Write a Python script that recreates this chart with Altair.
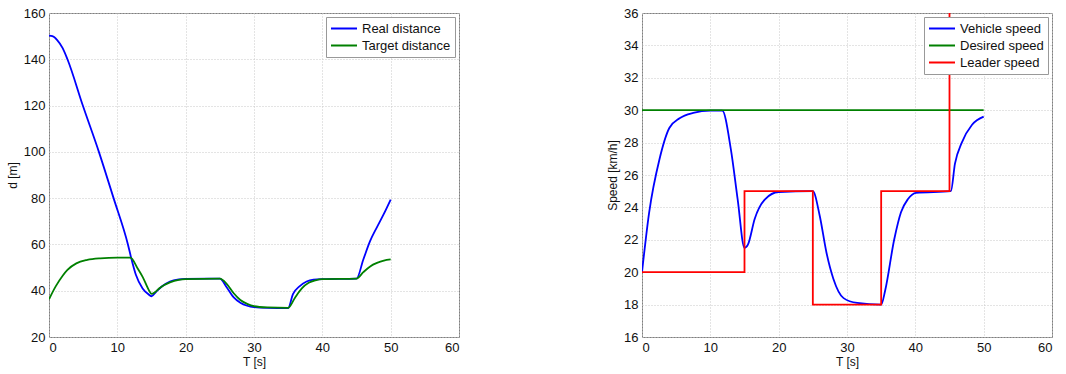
import altair as alt
import pandas as pd

# ---- Left panel: distances ----
t_real = [0, 0.5, 1.2, 2, 2.7, 4.95, 7.3, 9.45, 11.55, 12, 12.7, 13.7, 14.5, 15, 15.7, 16.5, 17.7, 19, 20, 25,
          26, 27, 28, 29, 30, 32, 35, 35.7, 36.7, 37.7, 38.7, 40, 45, 46, 47, 48, 49, 50]
d_real = [150.2, 150, 148.3, 144.8, 140, 120, 100, 80, 60, 54.5, 47.0, 41.0, 38.6, 37.6, 39.6, 41.8, 44.0, 44.9, 45.1, 45.2,
          41.5, 37.2, 34.8, 33.5, 32.9, 32.6, 32.5, 38.5, 42.0, 44.0, 44.8, 45.0, 45.2, 53.5, 61.5, 67.5, 73.2, 79.4]

t_target = [0, 1, 2, 2.7, 4, 5.6, 7.5, 10, 11.9, 13, 13.7, 14.7, 15, 15.5, 16.2, 17.7, 19, 20, 25,
            26, 27, 28, 29, 30, 32, 35, 36, 37, 38, 39, 40, 45, 46, 47, 48, 49, 50]
d_target = [36.3, 42.0, 46.5, 49.0, 51.8, 53.3, 54.0, 54.3, 54.3, 49.5, 46.0, 39.8, 38.6, 39.3, 41.2, 43.6, 44.7, 45.0, 45.2,
            43.0, 39.0, 36.0, 34.3, 33.3, 32.8, 32.6, 37.0, 41.0, 43.4, 44.5, 45.0, 45.2, 48.0, 50.5, 52.0, 53.0, 53.5]

# ---- Right panel: speeds ----
t_vehicle = [0, 1.05, 2.55, 4.0, 5.5, 7.5, 10, 11.75, 13, 14, 15, 15.5, 16.5, 18, 20, 25,
             26, 27, 28, 29.5, 31.5, 35, 35.6, 36.9, 37.9, 38.9, 40.1, 45.2, 45.8, 46.8, 48.3, 50]
v_vehicle = [20.0, 23.7, 26.96, 28.9, 29.5, 29.83, 29.97, 29.97, 27.6, 24.5, 21.5, 21.7, 23.3, 24.5, 24.95, 25.0,
             23.5, 21.2, 19.6, 18.4, 18.1, 18.0, 18.9, 22.0, 23.7, 24.5, 24.9, 25.0, 26.7, 28.0, 29.1, 29.6]

t_desired = [0, 50]
v_desired = [30, 30]

t_leader = [0, 15, 15, 25, 25, 35, 35, 45, 45, 50]
v_leader = [20, 20, 25, 25, 18, 18, 25, 25, 40, 40]

x_ticks = [0, 10, 20, 30, 40, 50, 60]
d_ticks = [20, 40, 60, 80, 100, 120, 140, 160]
v_ticks = [16, 18, 20, 22, 24, 26, 28, 30, 32, 34, 36]

left_df = pd.concat([
    pd.DataFrame({"t": t_real, "v": d_real, "series": "Real distance", "o": list(range(len(t_real)))}),
    pd.DataFrame({"t": t_target, "v": d_target, "series": "Target distance", "o": list(range(len(t_target)))}),
])
right_df = pd.concat([
    pd.DataFrame({"t": t_vehicle, "v": v_vehicle, "series": "Vehicle speed", "o": list(range(len(t_vehicle)))}),
    pd.DataFrame({"t": t_desired, "v": v_desired, "series": "Desired speed", "o": list(range(len(t_desired)))}),
    pd.DataFrame({"t": t_leader, "v": v_leader, "series": "Leader speed", "o": list(range(len(t_leader)))}),
])

FONT = "Liberation Sans"
W, H = 410, 324

def legend():
    return alt.Legend(title=None, orient="top-right", offset=4, fillColor="white",
                      strokeColor="#999999", padding=4, symbolType="M-1,0H3",
                      symbolStrokeWidth=2, symbolSize=169, labelFontSize=13,
                      labelFont=FONT, labelColor="#111111", rowPadding=2,
                      labelOffset=17)

xenc = alt.X("t:Q", title="T [s]", scale=alt.Scale(domain=[0, 60], nice=False),
             axis=alt.Axis(values=x_ticks))

left = alt.Chart(left_df).mark_line(strokeWidth=1.8, interpolate="monotone", clip=True).encode(
    x=xenc,
    y=alt.Y("v:Q", title="d [m]", scale=alt.Scale(domain=[20, 160], nice=False),
            axis=alt.Axis(values=d_ticks)),
    color=alt.Color("series:N", scale=alt.Scale(domain=["Real distance", "Target distance"],
                                                range=["#0000ff", "#008000"]), legend=legend()),
    order="o:Q",
).properties(width=W, height=H)

yspeed = alt.Y("v:Q", title="Speed [km/h]", scale=alt.Scale(domain=[16, 36], nice=False),
               axis=alt.Axis(values=v_ticks, labelOverlap=False))

vehicle = alt.Chart(right_df).transform_filter(alt.datum.series != "Leader speed").mark_line(
    strokeWidth=1.8, interpolate="monotone", clip=True).encode(
    x=xenc,
    y=yspeed,
    color=alt.Color("series:N", scale=alt.Scale(domain=["Vehicle speed", "Desired speed", "Leader speed"],
                                                range=["#0000ff", "#008000", "#ff0000"]), legend=legend()),
    order="o:Q",
)
leader = alt.Chart(right_df).transform_filter(alt.datum.series == "Leader speed").mark_line(
    strokeWidth=1.8, interpolate="linear", clip=True).encode(
    x=xenc,
    y=yspeed,
    color=alt.Color("series:N"),
    order="o:Q",
)
right = alt.layer(vehicle, leader).properties(width=W, height=H)

chart = alt.hconcat(left, right, spacing=146).resolve_scale(color="independent").configure(
    padding={"left": 5, "top": 6, "right": 5, "bottom": 5}
).configure_view(stroke="#7f7f7f", strokeWidth=1).configure_axis(
    labelFont=FONT, titleFont=FONT, labelFontSize=13, titleFontSize=12,
    labelColor="#111111", titleColor="#111111", titleFontWeight="normal",
    grid=True, gridColor="#c8c8c8", gridDash=[1, 2], gridWidth=1,
    domain=False, ticks=False, labelOverlap=False,
    labelPadding=4,
).configure_axisX(titlePadding=2).configure_axisY(titlePadding=4)

chart.save("out.html", embed_options={"renderer": "svg", "actions": False})
